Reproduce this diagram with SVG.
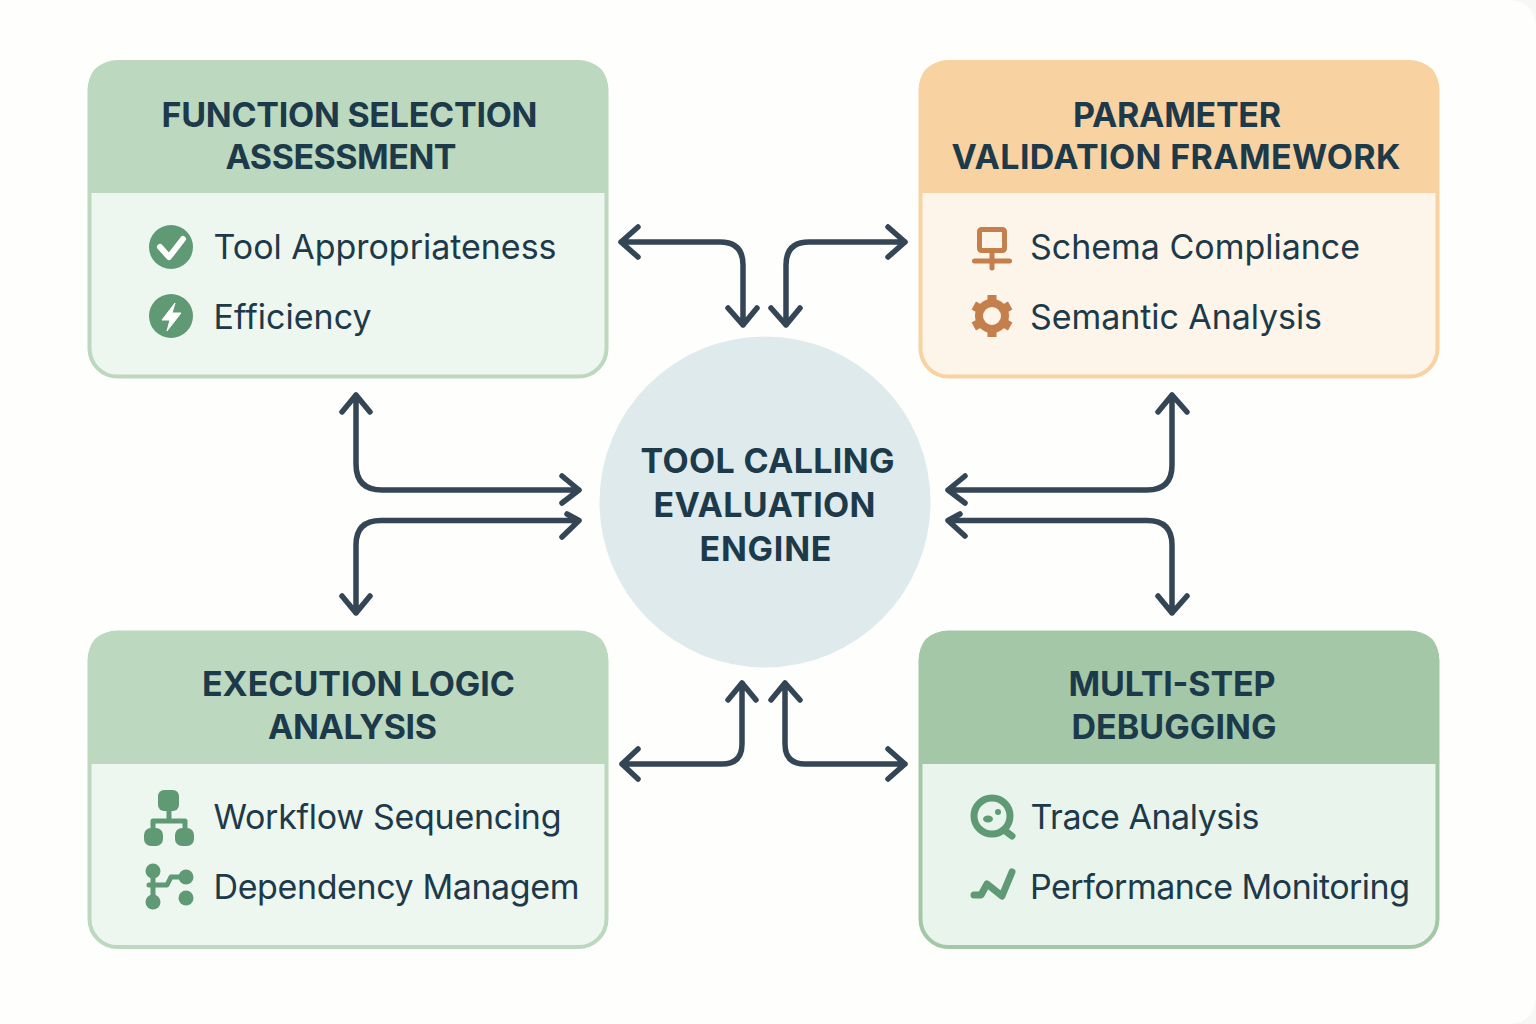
<svg xmlns="http://www.w3.org/2000/svg" width="1536" height="1024" viewBox="0 0 1536 1024">
<style>
.t{font-family:Inter,"Liberation Sans",sans-serif;font-weight:700;font-size:34px;fill:#1d3a4a;text-anchor:middle}
.b{font-family:Inter,"Liberation Sans",sans-serif;font-weight:400;font-size:34px;fill:#1d3a4a}
.c{fill:none;stroke:#344655;stroke-width:5.500;stroke-linecap:round;stroke-linejoin:round}
.g{fill:#5f9a75}.o{fill:#c47f4c}
.gs{fill:none;stroke:#5f9a75;stroke-linecap:round;stroke-linejoin:round}
.os{fill:none;stroke:#c47f4c;stroke-linecap:round;stroke-linejoin:round}
</style>
<rect width="1536" height="1024" fill="#f6f7f6"/>
<path d="M0 0H1506Q1536 0 1536 30V994Q1536 1024 1506 1024H0Z" fill="#fefefd"/>
<g id="connectors" class="c">
<path d="M621 242H720Q743 242 743 265V325M621 242L638 227M621 242L638 257M728 308L743 325L757 308"/>
<path d="M905 242H809Q786 242 786 265V325M905 242L888 227M905 242L888 257M771 308L786 325L800 308"/>
<path d="M356 395V464Q356 490 382 490H579M342 412L356 395L370 412M562 476L579 490L562 503"/>
<path d="M356 613V545Q356 520.500 381 520.500H579M342 596L356 613L370 596M567 514L579 520.500L562 537"/>
<path d="M1172 395V465Q1172 490 1147 490H948M1158 412L1172 395L1187 412M965 476L948 490L965 503"/>
<path d="M1172 613V545Q1172 520.500 1147 520.500H948M1158 596L1172 613L1187 596M960 514L948 520.500L965 536"/>
<path d="M622 764H722Q742 764 742 744V683M622 764L638 749M622 764L638 779M728 700L742 683L756 700"/>
<path d="M905 764H805Q785 764 785 744V683M905 764L888 749M905 764L888 779M771 700L785 683L800 700"/>
</g>
<g id="center">
<circle cx="765" cy="502" r="165.500" fill="#deeaec"/>
<text class="t" x="767.500" y="473" textLength="254">TOOL CALLING</text>
<text class="t" x="764.500" y="517" textLength="222">EVALUATION</text>
<text class="t" x="765.500" y="561" textLength="132">ENGINE</text>
</g>
<g id="function-selection">
<rect x="89.500" y="62" width="517" height="314.500" rx="28" fill="#edf6ef" stroke="#bcd8be" stroke-width="4"/>
<path d="M88 193V91Q88 61 118 61H578Q608 61 608 91V193Z" fill="#bcd8be"/>
<text class="t" x="349.500" y="127" textLength="376">FUNCTION SELECTION</text>
<text class="t" x="341" y="168.500" textLength="231">ASSESSMENT</text>
<circle class="g" cx="171" cy="247" r="22"/>
<path d="M160 247L169 257L183 239" fill="none" stroke="#fff" stroke-width="6" stroke-linecap="round" stroke-linejoin="round"/>
<circle class="g" cx="171" cy="316" r="22"/>
<path d="M175 303L162 320H170L167 331L181 313H172Z" fill="#fff" stroke="#fff" stroke-linejoin="round"/>
<text class="b" x="213.500" y="259" textLength="343">Tool Appropriateness</text>
<text class="b" x="213.500" y="329" textLength="158">Efficiency</text>
</g>
<g id="parameter-validation">
<rect x="920.500" y="62" width="517" height="314.500" rx="28" fill="#fdf5e9" stroke="#f9d2a2" stroke-width="4"/>
<path d="M919 193V91Q919 61 949 61H1409Q1439 61 1439 91V193Z" fill="#f9d2a2"/>
<text class="t" x="1177" y="127" textLength="208">PARAMETER</text>
<text class="t" x="1176" y="168.500" textLength="449">VALIDATION FRAMEWORK</text>
<rect class="os" x="979.500" y="229.500" width="25" height="21" rx="2" stroke-width="5"/>
<path class="os" d="M992 252V268M974.500 261H1009.500" stroke-width="5"/>
<circle class="os" cx="992" cy="316" r="13" stroke-width="8"/>
<path class="os" d="M992 295V302M992 330V337M973.800 305.500L980 309M1004 323L1010.200 326.500M973.800 326.500L980 323M1004 309L1010.200 305.500" stroke-width="9" style="stroke-linecap:butt"/>
<text class="b" x="1030" y="259" textLength="330">Schema Compliance</text>
<text class="b" x="1030" y="329" textLength="292">Semantic Analysis</text>
</g>
<g id="execution-logic">
<rect x="89.500" y="632.500" width="517" height="314.500" rx="28" fill="#edf6ef" stroke="#bcd8be" stroke-width="4"/>
<path d="M88 764V661Q88 631 118 631H578Q608 631 608 661V764Z" fill="#bcd8be"/>
<text class="t" x="358.500" y="696" textLength="313">EXECUTION LOGIC</text>
<text class="t" x="352.500" y="739" textLength="169">ANALYSIS</text>
<rect class="g" x="158" y="790" width="21" height="21" rx="6"/>
<rect class="g" x="144" y="828" width="19" height="18" rx="7"/>
<rect class="g" x="175" y="828" width="19" height="18" rx="7"/>
<path class="gs" d="M169 810V821M153 830V821H185V830" stroke-width="5"/>
<circle class="g" cx="153" cy="871" r="7.500"/>
<circle class="g" cx="153" cy="902" r="7.500"/>
<circle class="g" cx="186" cy="877" r="7.500"/>
<circle class="g" cx="186" cy="898" r="7.500"/>
<path class="gs" d="M153 871V902M149 885H167L171 877H186" stroke-width="5"/>
<text class="b" x="213.500" y="829" textLength="348">Workflow Sequencing</text>
<text class="b" x="213.500" y="899" textLength="366">Dependency Managem</text>
</g>
<g id="multi-step">
<rect x="920.500" y="632.500" width="517" height="314.500" rx="28" fill="#e9f4ec" stroke="#a3c7a7" stroke-width="4"/>
<path d="M919 764V661Q919 631 949 631H1409Q1439 631 1439 661V764Z" fill="#a3c7a7"/>
<text class="t" x="1172" y="696" textLength="207">MULTI-STEP</text>
<text class="t" x="1174" y="739" textLength="205">DEBUGGING</text>
<circle class="gs" cx="992" cy="816" r="18" stroke-width="7"/>
<path class="gs" d="M1004 830L1012 836" stroke-width="7"/>
<ellipse class="g" cx="988" cy="819" rx="5" ry="3.500"/>
<circle class="g" cx="998" cy="812" r="3"/>
<path class="gs" d="M974 895H981L987 884L1002 896L1012 872" stroke-width="7"/>
<text class="b" x="1030.500" y="829" textLength="229">Trace Analysis</text>
<text class="b" x="1030" y="899" textLength="380">Performance Monitoring</text>
</g>
</svg>
